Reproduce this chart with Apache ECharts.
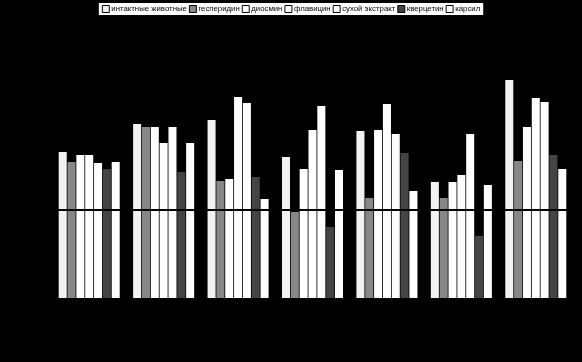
<!DOCTYPE html>
<html><head><meta charset="utf-8">
<script src="https://cdn.jsdelivr.net/npm/echarts@6/dist/echarts.min.js"></script>
<style>html,body{margin:0;padding:0;background:#000}#c{width:582px;height:362px}</style>
</head><body><div id="c"></div>
<script>
const categories = ['1', '2', '3', '4', '5', '6', '7'];
const seriesNames = ['интактные животные', 'гесперидин', 'диосмин', 'флавицин', 'сухой экстракт', 'кверцетин', 'карсил'];
const intact = [146, 174, 178, 141, 167, 116, 218];
const hesperidin = [136, 171, 117, 86, 100, 100, 137];
const diosmin = [143, 171, 119, 129, 168, 116, 171];
const flavicin = [143, 155, 201, 168, 194, 123, 200];
const dryExtract = [135, 171, 195, 192, 164, 164, 196];
const quercetin = [129, 126, 121, 71, 145, 62, 143];
const karsil = [136, 155, 99, 128, 107, 113, 129];
const referenceLevel = 88;

const seriesData = [intact, hesperidin, diosmin, flavicin, dryExtract, quercetin, karsil];
const colors = ['#f2f2f2', '#878787', '#ffffff', '#ffffff', '#ffffff', '#444444', '#ffffff'];

const chart = echarts.init(document.getElementById('c'));
const series = seriesData.map((d, i) => ({
  name: seriesNames[i],
  type: 'bar',
  data: d,
  barGap: '10%',
  barCategoryGap: '18%',
  itemStyle: { color: colors[i] },
  emphasis: { disabled: true }
}));
series[6].markLine = {
  silent: true,
  symbol: 'none',
  label: { show: false },
  lineStyle: { color: '#000', width: 2, type: 'solid' },
  data: [{ yAxis: referenceLevel }],
  z: 10
};
chart.setOption({
  backgroundColor: '#000',
  animation: false,
  legend: {
    top: 3,
    left: 'center',
    backgroundColor: '#fff',
    padding: [2, 3],
    itemWidth: 7,
    itemHeight: 7,
    itemGap: 2,
    icon: 'rect',
    textStyle: { fontSize: 7.8, color: '#000', fontFamily: 'Liberation Sans', padding: [0, 0, 0, -3] },
    data: seriesNames.map((n, i) => ({ name: n, itemStyle: { color: colors[i], borderColor: '#000', borderWidth: 1 } }))
  },
  grid: { left: 52, right: 9, top: 38, bottom: 64 },
  xAxis: {
    type: 'category',
    data: categories,
    axisLine: { lineStyle: { color: '#000' } },
    axisTick: { show: false },
    axisLabel: { color: '#000' }
  },
  yAxis: {
    type: 'value',
    min: 0, max: 260,
    splitLine: { show: false },
    axisLine: { show: false },
    axisLabel: { show: false }
  },
  series: series
});
</script></body></html>
